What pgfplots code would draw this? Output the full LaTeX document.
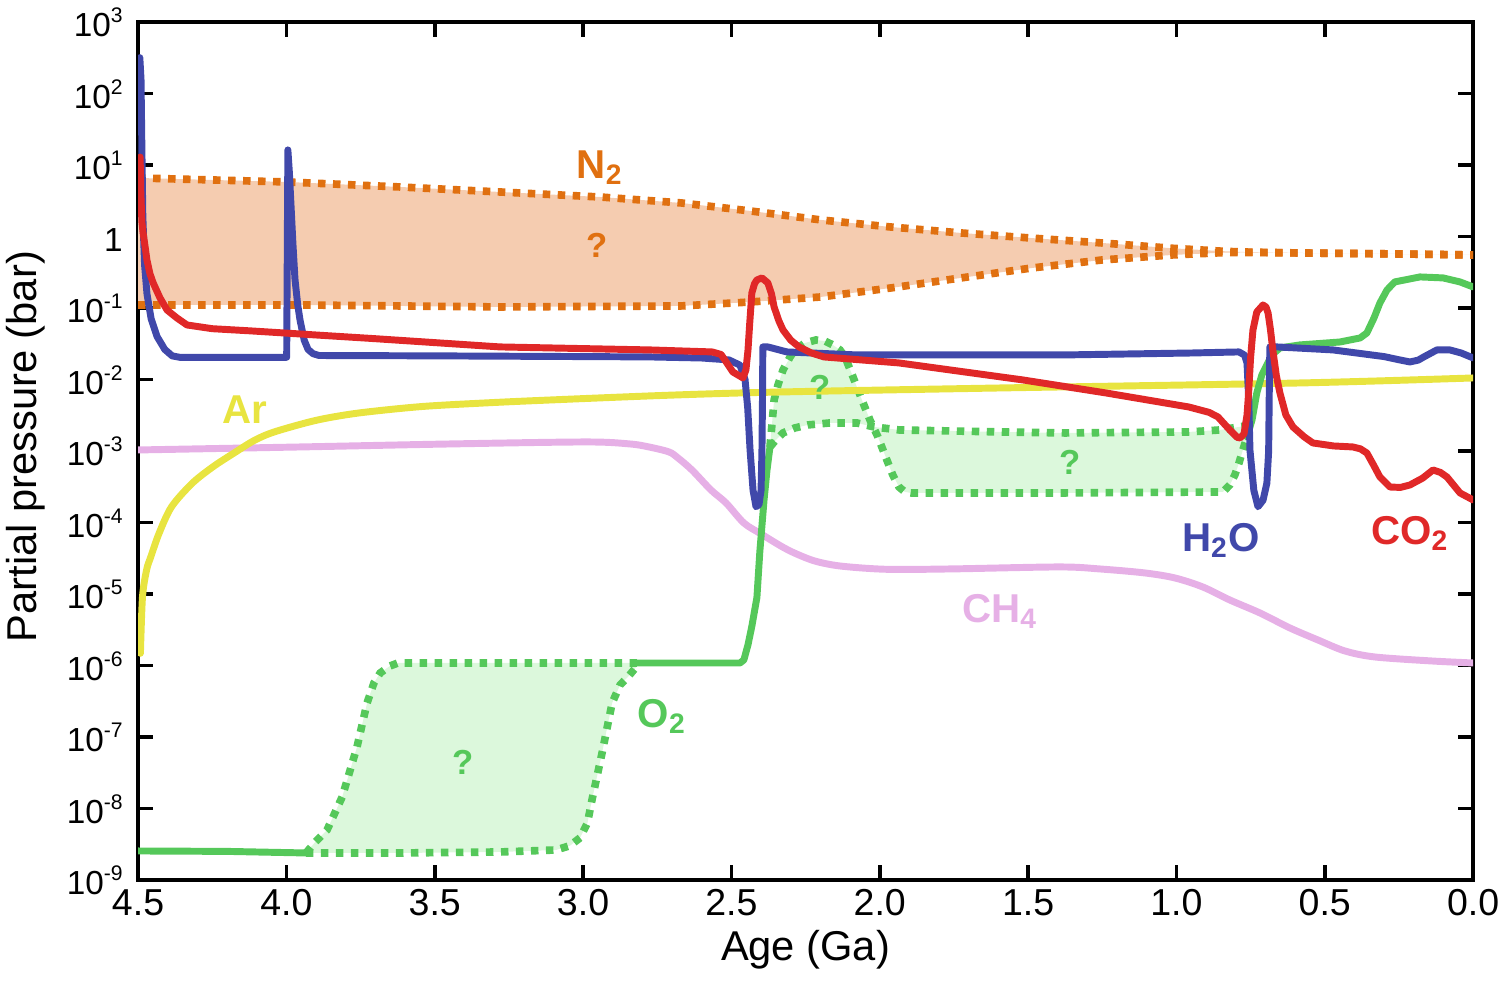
\documentclass[border=0pt]{standalone}
\usepackage{fontspec}
\setmainfont{Liberation Sans}
\usepackage{pgfplots}
\usepackage{pgfplotstable}
\pgfplotsset{compat=1.18}
\usepgfplotslibrary{fillbetween}

\definecolor{cblue}{HTML}{4048AA}
\definecolor{cred}{HTML}{E02828}
\definecolor{cgreen}{HTML}{55C85A}
\definecolor{cyellow}{HTML}{E8E440}
\definecolor{cpink}{HTML}{E6B0E6}
\definecolor{corange}{HTML}{E07010}
\definecolor{cpeach}{HTML}{F5CCB0}
\definecolor{clgreen}{HTML}{DCF8DC}

\newcommand{\ytl}[1]{10\smash{\raisebox{5pt}{\fontsize{7.6}{8}\selectfont #1}}}

% N2 band (log10 bar)
\pgfplotstableread{
x y
4.5 0.818
3.998 0.762
3.617 0.692
3.280 0.622
2.943 0.552
2.670 0.469
2.437 0.357
2.198 0.231
1.965 0.133
1.726 0.049
1.494 -0.021
1.251 -0.091
1.015 -0.165
0.85 -0.205
0.779 -0.217
0.584 -0.231
0.247 -0.245
0 -0.259
}\tNtop
\pgfplotstableread{
x y
4.5 -0.958
3.954 -0.958
3.280 -0.986
2.670 -0.972
2.434 -0.916
2.198 -0.846
1.962 -0.720
1.726 -0.580
1.487 -0.441
1.251 -0.329
1.015 -0.259
0.85 -0.228
0.779 -0.224
0.584 -0.231
0.247 -0.245
0 -0.259
}\tNbot
% O2 band 1
\pgfplotstableread{
x y
3.934 -8.622
3.617 -8.622
3.280 -8.608
3.091 -8.580
3.044 -8.52
3.010 -8.41
2.985 -8.20
2.970 -7.881
2.936 -7.224
2.902 -6.524
2.875 -6.27
2.849 -6.161
2.815 -5.993
}\tOa
\pgfplotstableread{
x y
3.934 -8.622
3.903 -8.47
3.863 -8.301
3.812 -7.839
3.762 -7.140
3.728 -6.524
3.705 -6.245
3.684 -6.105
3.651 -6.007
3.624 -5.965
3.280 -5.965
2.815 -5.965
}\tOb
% O2 band 2
\pgfplotstableread{
x y
2.370 -2.944
2.356 -2.287
2.343 -2.077
2.326 -1.867
2.302 -1.685
2.286 -1.587
2.252 -1.49
2.215 -1.448
2.185 -1.462
2.158 -1.517
2.134 -1.587
2.117 -1.685
2.090 -1.965
2.060 -2.287
2.033 -2.566
2.006 -2.804
1.976 -3.126
1.956 -3.336
1.935 -3.504
1.915 -3.573
1.895 -3.587
1.376 -3.587
0.843 -3.573
0.820 -3.476
0.803 -3.336
0.789 -3.168
0.776 -2.986
0.762 -2.804
}\tOu
\pgfplotstableread{
x y
2.370 -2.944
2.350 -2.846
2.326 -2.748
2.286 -2.678
2.242 -2.636
2.168 -2.608
2.077 -2.608
2.019 -2.664
1.935 -2.706
1.591 -2.734
1.376 -2.748
0.958 -2.734
0.853 -2.706
0.789 -2.664
0.769 -2.650
}\tOw

\begin{document}
\begin{tikzpicture}
\begin{axis}[name=ax, scale only axis, width=480.6pt, height=308.9pt,
  xmin=0, xmax=4.5, x dir=reverse, ymin=-9, ymax=3,
  xtick={0,0.5,1,1.5,2,2.5,3,3.5,4,4.5},
  xticklabels={0.0,0.5,1.0,1.5,2.0,2.5,3.0,3.5,4.0,4.5},
  ytick={-9,-8,-7,-6,-5,-4,-3,-2,-1,0,1,2,3},
  yticklabels={\ytl{-9},\ytl{-8},\ytl{-7},\ytl{-6},\ytl{-5},\ytl{-4},\ytl{-3},\ytl{-2},\ytl{-1},1,\ytl{1},\ytl{2},\ytl{3}},
  tick align=inside, tick pos=both, major tick length=5.4pt,
  axis line style={line width=1.45pt, black},
  every tick/.style={black, line width=1.3pt},
  x tick label style={font=\fontsize{13.5}{16}\selectfont},
  y tick label style={font=\fontsize{12}{14}\selectfont, xshift=-2pt, yshift=-1.2pt},
  xlabel={Age (Ga)}, ylabel={Partial pressure (bar)},
  every axis x label/.style={at={(axis description cs:0.5,0)}, anchor=base, yshift=-28.8pt, font=\fontsize{15}{18}\selectfont},
  every axis y label/.style={at={(axis description cs:-0.0839,0.505)}, anchor=center, rotate=90, font=\fontsize{15}{18}\selectfont},
  solidc/.style={line width=2.5pt, line join=round, line cap=round},
  dotc/.style={line width=2.75pt, dash pattern=on 2.7pt off 2.7pt},
]
% fills
\addplot[draw=none, name path=nt] table {\tNtop};
\addplot[draw=none, name path=nb] table {\tNbot};
\addplot[fill=cpeach, draw=none] fill between[of=nt and nb];
\addplot[draw=none, name path=oa] table {\tOa};
\addplot[draw=none, name path=ob] table {\tOb};
\addplot[fill=clgreen, draw=none] fill between[of=oa and ob];
\addplot[draw=none, name path=ou] table {\tOu};
\addplot[draw=none, name path=ow] table {\tOw};
\addplot[fill=clgreen, draw=none] fill between[of=ou and ow];
% dotted boundaries
\addplot[corange, dotc] table {\tNtop};
\addplot[corange, dotc] table {\tNbot};
\addplot[cgreen, dotc] table {\tOa};
\addplot[cgreen, dotc] table {\tOb};
\addplot[cgreen, dotc] table {\tOu};
\addplot[cgreen, dotc] table {\tOw};
% CH4
\addplot[cpink, solidc, smooth, tension=0.5] coordinates {
(4.5,-2.986) (3.954,-2.944) (3.448,-2.902) (2.990,-2.874) (2.842,-2.902) (2.778,-2.944)
(2.710,-3.014) (2.680,-3.098) (2.633,-3.266) (2.569,-3.545) (2.518,-3.727) (2.458,-4.007)
(2.400,-4.160) (2.333,-4.330) (2.286,-4.430) (2.218,-4.54) (2.131,-4.61) (1.976,-4.655)
(1.763,-4.65) (1.396,-4.622) (1.258,-4.650) (1.106,-4.706) (1.005,-4.776) (0.911,-4.902)
(0.820,-5.084) (0.718,-5.266) (0.617,-5.476) (0.523,-5.643) (0.432,-5.797) (0.331,-5.881)
(0.139,-5.937) (0,-5.965)};
% Ar
\addplot[cyellow, solidc, smooth, tension=0.5] coordinates {
(4.492,-5.83) (4.485,-5.04) (4.471,-4.66) (4.457,-4.48) (4.429,-4.15) (4.387,-3.78)
(4.317,-3.45) (4.247,-3.22) (4.177,-3.03) (4.107,-2.85) (4.038,-2.73) (3.898,-2.57)
(3.758,-2.47) (3.548,-2.38) (3.338,-2.33) (3.128,-2.29) (2.709,-2.22) (2.333,-2.175)
(1.595,-2.119) (0.584,-2.049) (0,-1.979)};
% O2 solid
\addplot[cgreen, solidc] coordinates {(4.5,-8.594) (4.2,-8.60) (3.934,-8.622)};
\addplot[cgreen, solidc] coordinates {
(2.815,-5.965) (2.471,-5.965) (2.458,-5.923) (2.444,-5.71) (2.431,-5.45) (2.414,-5.05)
(2.404,-4.40) (2.390,-3.69) (2.380,-3.27) (2.370,-2.944)};
\addplot[cgreen, solidc] coordinates {
(0.762,-2.804) (0.745,-2.566) (0.729,-2.189) (0.712,-1.937) (0.695,-1.797) (0.678,-1.657)
(0.651,-1.559) (0.584,-1.517) (0.449,-1.476) (0.381,-1.420) (0.358,-1.350) (0.334,-1.14)
(0.314,-0.930) (0.290,-0.748) (0.264,-0.636) (0.179,-0.566) (0.101,-0.580) (0.044,-0.636)
(0,-0.706)};
% H2O
\addplot[cblue, solidc] coordinates {
(4.499,2.3) (4.494,2.5) (4.490,2.2) (4.487,1.2) (4.484,0.3) (4.478,-0.4) (4.470,-0.8)
(4.456,-1.15) (4.436,-1.40) (4.41,-1.58) (4.385,-1.67) (4.36,-1.69) (3.999,-1.69)
(3.995,1.21) (3.990,0.9) (3.984,0.4) (3.978,-0.1) (3.971,-0.6) (3.962,-0.95) (3.954,-1.17)
(3.94,-1.45) (3.927,-1.58) (3.91,-1.64) (3.89,-1.665) (3.5,-1.67) (3.0,-1.68)
(2.774,-1.685) (2.60,-1.70) (2.508,-1.727) (2.471,-1.80) (2.454,-2.0) (2.445,-2.4)
(2.437,-2.99) (2.427,-3.55) (2.417,-3.78) (2.407,-3.75) (2.400,-3.55) (2.397,-3.0)
(2.395,-2.2) (2.394,-1.545) (2.377,-1.545) (2.313,-1.615) (2.077,-1.657) (1.376,-1.657)
(0.95,-1.63) (0.789,-1.615) (0.770,-1.66) (0.762,-1.77) (0.756,-2.3) (0.752,-2.99)
(0.739,-3.55) (0.725,-3.78) (0.708,-3.69) (0.695,-3.45) (0.689,-3.0) (0.687,-2.2)
(0.685,-1.545) (0.661,-1.545) (0.472,-1.587) (0.30,-1.68) (0.247,-1.727) (0.213,-1.755)
(0.185,-1.73) (0.166,-1.685) (0.122,-1.587) (0.078,-1.587) (0.04,-1.63) (0,-1.699)};
% CO2
\addplot[cred, solidc] coordinates {
(4.493,1.11) (4.491,0.65) (4.487,0.2) (4.483,0.05) (4.476,-0.15) (4.470,-0.33)
(4.460,-0.52) (4.449,-0.65) (4.426,-0.86) (4.402,-1.03) (4.369,-1.14) (4.335,-1.238)
(4.25,-1.29) (4.123,-1.32) (3.70,-1.43) (3.280,-1.545) (2.774,-1.587) (2.565,-1.615)
(2.535,-1.65) (2.522,-1.727) (2.495,-1.895) (2.461,-1.979) (2.451,-1.867) (2.444,-1.587)
(2.438,-1.2) (2.431,-0.79) (2.422,-0.66) (2.414,-0.608) (2.397,-0.58) (2.377,-0.65)
(2.365,-0.8) (2.356,-0.986) (2.340,-1.18) (2.326,-1.308) (2.300,-1.45) (2.272,-1.545)
(2.23,-1.63) (2.188,-1.685) (1.935,-1.769) (1.517,-2.007) (1.237,-2.189) (0.958,-2.385)
(0.89,-2.46) (0.860,-2.524) (0.820,-2.706) (0.795,-2.81) (0.785,-2.818) (0.772,-2.76)
(0.762,-2.5) (0.756,-2.15) (0.750,-1.7) (0.742,-1.31) (0.729,-1.056) (0.708,-0.958)
(0.698,-0.986) (0.691,-1.07) (0.683,-1.3) (0.675,-1.587) (0.663,-1.95) (0.651,-2.189)
(0.631,-2.497) (0.607,-2.664) (0.570,-2.80) (0.540,-2.888) (0.47,-2.93) (0.405,-2.944)
(0.380,-2.97) (0.358,-3.028) (0.335,-3.20) (0.314,-3.364) (0.280,-3.504) (0.245,-3.51)
(0.213,-3.476) (0.170,-3.38) (0.135,-3.266) (0.110,-3.30) (0.088,-3.364) (0.044,-3.587)
(0,-3.685)};
% labels
\node[text=corange, font=\bfseries\fontsize{14.5}{17}\selectfont] at (axis cs:2.943,0.958) {N\textsubscript{2}};
\node[text=corange, font=\bfseries\fontsize{12.5}{15}\selectfont] at (axis cs:2.953,-0.119) {?};
\node[text=cyellow, font=\bfseries\fontsize{14.5}{17}\selectfont] at (axis cs:4.139,-2.427) {Ar};
\node[text=cblue, font=\bfseries\fontsize{14.5}{17}\selectfont] at (axis cs:0.850,-4.245) {H\textsubscript{2}O};
\node[text=cred, font=\bfseries\fontsize{14.5}{17}\selectfont] at (axis cs:0.213,-4.147) {CO\textsubscript{2}};
\node[text=cpink, font=\bfseries\fontsize{14.5}{17}\selectfont] at (axis cs:1.595,-5.238) {CH\textsubscript{4}};
\node[text=cgreen, font=\bfseries\fontsize{14.5}{17}\selectfont] at (axis cs:2.734,-6.706) {O\textsubscript{2}};
\node[text=cgreen, font=\bfseries\fontsize{12.5}{15}\selectfont] at (axis cs:2.201,-2.105) {?};
\node[text=cgreen, font=\bfseries\fontsize{12.5}{15}\selectfont] at (axis cs:1.359,-3.154) {?};
\node[text=cgreen, font=\bfseries\fontsize{12.5}{15}\selectfont] at (axis cs:3.405,-7.35) {?};
\end{axis}
\pgfresetboundingbox
\path (ax.south west) ++(-49.7pt,-38.9pt) rectangle ([xshift=9.7pt,yshift=7.9pt]ax.north east);
\end{tikzpicture}
\end{document}
